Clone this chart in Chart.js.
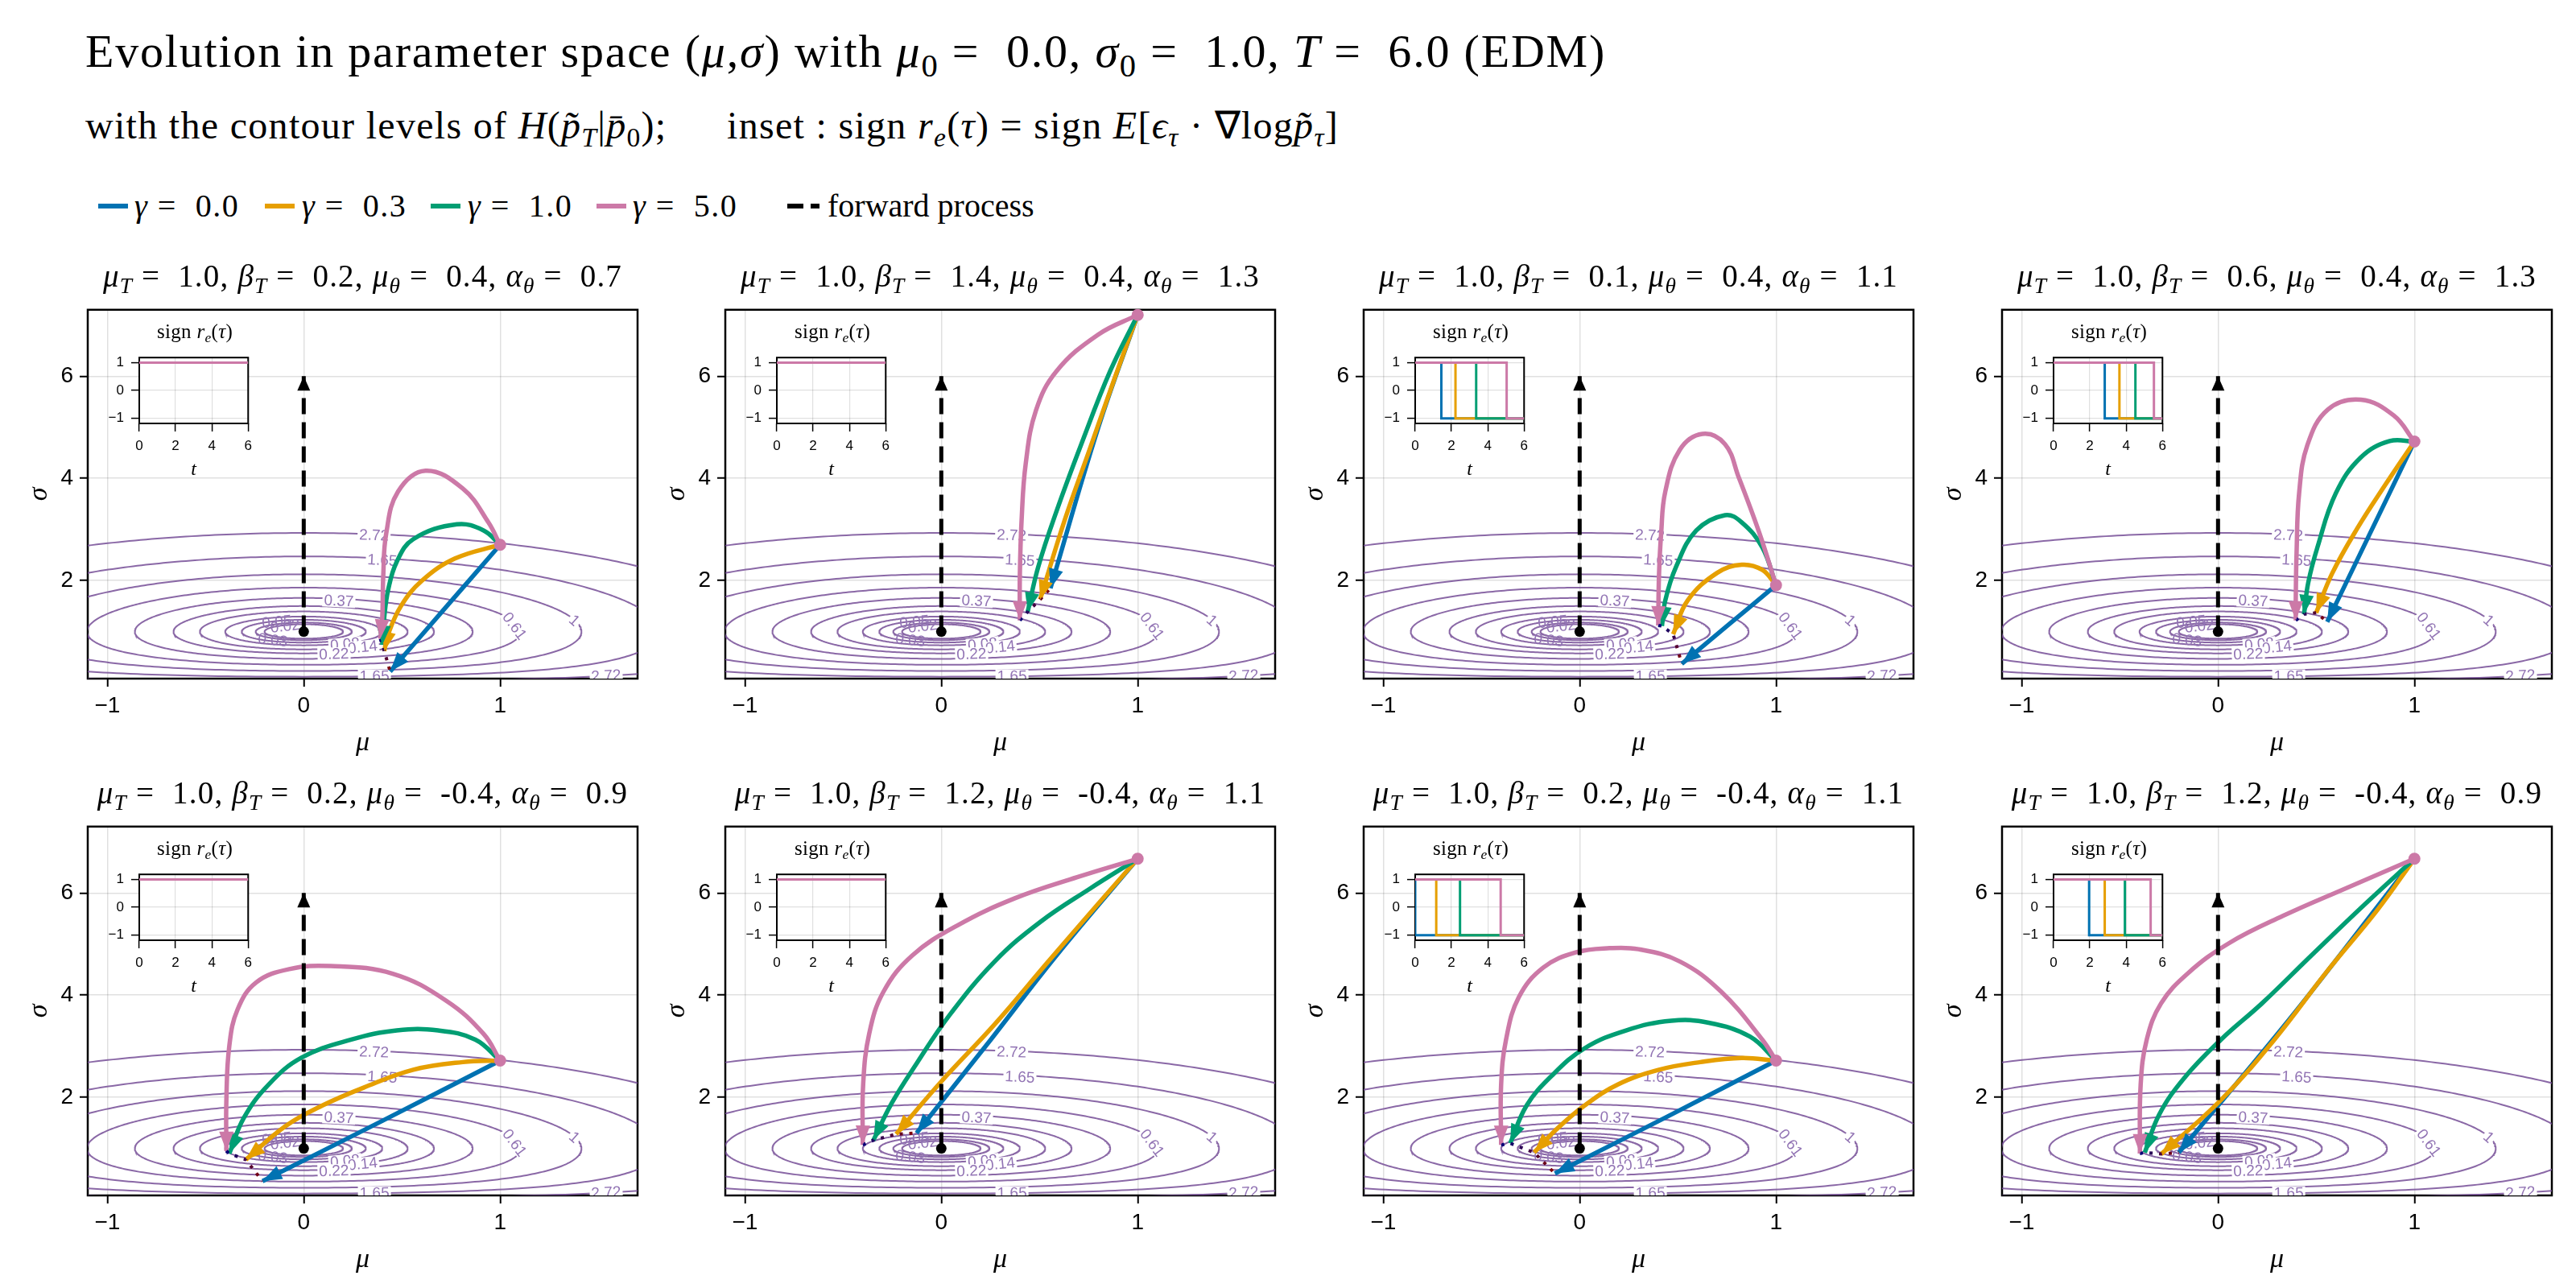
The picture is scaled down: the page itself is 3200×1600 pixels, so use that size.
<!DOCTYPE html>
<html>
<head>
<meta charset="utf-8">
<script src="https://cdn.jsdelivr.net/npm/chart.js@4.4.1/dist/chart.umd.min.js"></script>
<style>
  body { margin: 0; background: #fff; }
  #fig { position: relative; width: 3200px; height: 1600px; overflow: hidden; background: #fff; }
  #fig canvas { position: absolute; }
  .txt { position: absolute; white-space: nowrap; line-height: 1; font-family: 'Liberation Serif', serif; color: #000; }
  .txt sub { font-size: 0.7em; vertical-align: -0.3em; line-height: 0; }
  .swatch { position: absolute; width: 37px; height: 6px; transform: translateY(-50%); }
  .dashed { background: linear-gradient(to right, #000 0 20px, transparent 20px 29px, #000 29px 40px); width: 40px; }
</style>
</head>
<body>
<div id="fig"></div>
<script>
// ---- figure data ----
const mu0 = 0.0
const sigma0 = 1.0
const horizon = 6.0
const forwardEnd = 6.0

const gammaValues = [0.0, 0.3, 1.0, 5.0]
const gammaColors = ['#0072B2', '#E69F00', '#009E73', '#CC79A7']

const panelMuT = [1.0, 1.0, 1.0, 1.0, 1.0, 1.0, 1.0, 1.0]
const panelBetaT = [0.2, 1.4, 0.1, 0.6, 0.2, 1.2, 0.2, 1.2]
const panelMuTheta = [0.4, 0.4, 0.4, 0.4, -0.4, -0.4, -0.4, -0.4]
const panelAlphaTheta = [0.7, 1.3, 1.1, 1.3, 0.9, 1.1, 1.1, 0.9]

const muTicks = [-1, 0, 1]
const sigmaTicks = [2, 4, 6]
const insetTimeTicks = [0, 2, 4, 6]
const insetSignTicks = [-1, 0, 1]

// contour levels of H(p_T | p_0) and where their labels sit
const contourLevels = [0.02, 0.03, 0.05, 0.08, 0.14, 0.22, 0.37, 0.61, 1, 1.65, 2.72]
const contourLabelText = ['2.72', '1.65', '0.37', '0.61', '1', '0.05', '0.02', '0.03', '0.08', '0.14', '0.22', '1.65', '2.72']
const contourLabelMu = [0.358, 0.40, 0.179, 1.074, 1.379, -0.137, -0.095, -0.158, 0.21, 0.30, 0.154, 0.36, 1.54]
const contourLabelSigma = [2.89, 2.40, 1.605, 1.11, 1.22, 1.195, 1.11, 0.838, 0.756, 0.70, 0.564, 0.13, 0.14]

// trajectories, per panel: [gamma 0.0, 0.3, 1.0, 5.0]
const p1Mu = [
  [1.0, 0.72, 0.44],
  [1.0, 0.77, 0.60, 0.495, 0.43, 0.41],
  [1.0, 0.916, 0.78, 0.558, 0.474, 0.43, 0.41, 0.40],
  [1.0, 0.94, 0.81, 0.62, 0.48, 0.42, 0.405, 0.40, 0.39]
]
const p1Sigma = [
  [2.70, 1.46, 0.22],
  [2.70, 2.43, 1.99, 1.50, 0.95, 0.62],
  [2.70, 2.98, 3.10, 2.81, 2.37, 1.82, 1.28, 0.74],
  [2.70, 3.14, 3.80, 4.15, 3.74, 2.92, 2.10, 1.28, 0.86]
]
const p2Mu = [
  [1.0, 0.80, 0.556],
  [1.0, 0.88, 0.755, 0.629, 0.503],
  [1.0, 0.86, 0.713, 0.587, 0.493, 0.44],
  [1.0, 0.797, 0.587, 0.482, 0.43, 0.409, 0.40, 0.40]
]
const p2Sigma = [
  [7.2, 5.0, 1.85],
  [7.2, 5.93, 4.56, 3.19, 1.63],
  [7.2, 6.10, 4.67, 3.36, 2.26, 1.39],
  [7.2, 6.81, 6.10, 5.33, 4.29, 3.19, 2.10, 1.22]
]
const p3Mu = [
  [1.0, 0.76, 0.52],
  [1.0, 0.93, 0.825, 0.70, 0.55, 0.476],
  [1.0, 0.93, 0.825, 0.74, 0.594, 0.49, 0.436, 0.419],
  [1.0, 0.916, 0.81, 0.74, 0.625, 0.51, 0.436, 0.415, 0.404, 0.40]
]
const p3Sigma = [
  [1.91, 1.14, 0.37],
  [1.91, 2.21, 2.31, 2.15, 1.61, 0.95],
  [1.91, 2.65, 3.14, 3.28, 2.98, 2.26, 1.61, 1.11],
  [1.91, 2.92, 4.02, 4.67, 4.87, 4.56, 3.74, 2.92, 2.10, 1.12]
]
const p4Mu = [
  [1.0, 0.77, 0.556],
  [1.0, 0.853, 0.706, 0.58, 0.50],
  [1.0, 0.874, 0.727, 0.60, 0.507, 0.459, 0.438],
  [1.0, 0.895, 0.727, 0.56, 0.455, 0.413, 0.40, 0.396, 0.396]
]
const p4Sigma = [
  [4.72, 2.89, 1.19],
  [4.72, 3.88, 3.0, 2.13, 1.37],
  [4.72, 4.73, 4.41, 3.71, 2.66, 1.95, 1.34],
  [4.72, 5.23, 5.54, 5.35, 4.65, 3.71, 2.54, 1.66, 1.22]
]
const p5Mu = [
  [1.0, 0.40, -0.21],
  [1.0, 0.81, 0.558, 0.305, 0.095, -0.095, -0.295],
  [1.0, 0.874, 0.684, 0.474, 0.242, -0.01, -0.179, -0.305, -0.379],
  [1.0, 0.916, 0.726, 0.453, 0.137, -0.074, -0.242, -0.337, -0.379, -0.394, -0.394]
]
const p5Sigma = [
  [2.72, 1.54, 0.36],
  [2.72, 2.69, 2.54, 2.19, 1.84, 1.43, 0.78],
  [2.72, 3.13, 3.31, 3.31, 3.13, 2.78, 2.25, 1.60, 0.90],
  [2.72, 3.24, 3.89, 4.42, 4.57, 4.51, 4.25, 3.72, 3.01, 1.95, 0.95]
]
const p6Mu = [
  [1.0, 0.587, 0.252, -0.126],
  [1.0, 0.797, 0.545, 0.272, 0.0, -0.23],
  [1.0, 0.755, 0.503, 0.272, 0.04, -0.126, -0.252, -0.346],
  [1.0, 0.692, 0.377, 0.084, -0.147, -0.294, -0.367, -0.398, -0.40]
]
const p6Sigma = [
  [6.67, 4.78, 3.13, 1.30],
  [6.67, 5.78, 4.66, 3.43, 2.31, 1.28],
  [6.67, 6.08, 5.43, 4.66, 3.60, 2.66, 1.89, 1.16],
  [6.67, 6.31, 5.90, 5.37, 4.78, 4.07, 3.25, 2.25, 1.07]
]
const p7Mu = [
  [1.0, 0.44, -0.126],
  [1.0, 0.825, 0.615, 0.404, 0.194, 0.025, -0.122, -0.232],
  [1.0, 0.867, 0.657, 0.467, 0.236, 0.025, -0.143, -0.27, -0.354],
  [1.0, 0.93, 0.72, 0.51, 0.30, 0.152, -0.017, -0.185, -0.31, -0.375, -0.40, -0.40]
]
const p7Sigma = [
  [2.72, 1.61, 0.51],
  [2.72, 2.77, 2.69, 2.54, 2.25, 1.84, 1.36, 0.92],
  [2.72, 3.19, 3.46, 3.50, 3.31, 2.96, 2.42, 1.84, 1.10],
  [2.72, 3.13, 4.07, 4.66, 4.90, 4.92, 4.84, 4.54, 3.96, 3.13, 2.25, 1.07]
]
const p8Mu = [
  [1.0, 0.644, 0.33, -0.20],
  [1.0, 0.81, 0.56, 0.287, 0.015, -0.289],
  [1.0, 0.748, 0.476, 0.224, 0.015, -0.174, -0.30, -0.373],
  [1.0, 0.644, 0.33, 0.057, -0.153, -0.29, -0.363, -0.394, -0.398]
]
const p8Sigma = [
  [6.67, 4.90, 3.37, 0.92],
  [6.67, 5.66, 4.49, 3.13, 1.95, 0.89],
  [6.67, 5.78, 4.78, 3.84, 3.13, 2.37, 1.66, 0.92],
  [6.67, 6.08, 5.55, 5.02, 4.43, 3.84, 3.13, 2.25, 0.90]
]
const panelMu = [p1Mu, p2Mu, p3Mu, p4Mu, p5Mu, p6Mu, p7Mu, p8Mu]
const panelSigma = [p1Sigma, p2Sigma, p3Sigma, p4Sigma, p5Sigma, p6Sigma, p7Sigma, p8Sigma]

// inset: time where sign r_e switches from +1 to -1 (null = never)
const signSwitch = [
  [null, null, null, null],
  [null, null, null, null],
  [1.44, 2.22, 3.36, 5.04],
  [2.82, 3.63, 4.51, 5.53],
  [null, null, null, null],
  [null, null, null, null],
  [0, 1.16, 2.47, 4.71],
  [1.96, 2.82, 3.93, 5.35]
]

// ---- layout ----
const colLeft = [109, 901, 1694, 2487]
const rowTop = [372, 1014]
const plotW = 683
const plotH = 471
const insetW = 138
const insetH = 93
const muMin = -1.1
const muMax = 1.7
const sigmaMin = 0.08
const sigmaMax = 7.3
const legendSwatchX = [122, 329, 535, 741, 978]
const legendTextX = [167, 375, 581, 786, 1028]

const gridColor = 'rgba(0,0,0,0.12)'
const contourColor = 'rgba(118,78,150,0.85)'
const contourLabelColor = '#9274b4'
const fig = document.getElementById('fig')

// H = KL(N(mu, sigma^2) || N(mu0, sigma0^2)), the surface whose isolines are drawn
const klDiv = (m, s) => -Math.log(s) + (s * s + m * m - 1) / 2 // eslint-disable-line

function bisect (f, a, b) {
  let fa = f(a)
  for (let k = 0; k < 80; k++) {
    const c = (a + b) / 2
    const fc = f(c)
    if ((fc < 0) === (fa < 0)) { a = c; fa = fc } else { b = c }
  }
  return (a + b) / 2
}

// isoline of H at a level: mu^2 = 2c + 2 ln s - s^2 + 1
function contourPoints (level) {
  const g = s => 2 * level + 2 * Math.log(s) - s * s + 1
  const lo = bisect(g, 1e-4, 1)
  const hi = bisect(g, 1, 12)
  const n = 200
  const right = []
  for (let i = 0; i <= n; i++) {
    const s = (lo + hi) / 2 - (hi - lo) / 2 * Math.cos(Math.PI * i / n)
    right.push({ x: Math.sqrt(Math.max(0, g(s))), y: s })
  }
  const left = right.slice().reverse().map(p => ({ x: -p.x, y: p.y }))
  return right.concat(left)
}

function signSteps (s) {
  if (s === null) return [{ x: 0, y: 1 }, { x: horizon, y: 1 }]
  return [{ x: 0, y: 1 }, { x: s, y: 1 }, { x: s, y: -1 }, { x: horizon, y: -1 }]
}

const fmtTick = v => (v < 0 ? '\u2212' + Math.abs(v) : String(v))

function makeCanvas (left, top, width, height) {
  const c = document.createElement('canvas')
  c.width = width
  c.height = height
  c.style.left = left + 'px'
  c.style.top = top + 'px'
  c.style.width = width + 'px'
  c.style.height = height + 'px'
  fig.appendChild(c)
  return c
}

function addText (html, x, y, size, center, spacing) {
  const d = document.createElement('div')
  d.className = 'txt'
  d.innerHTML = html
  d.style.left = x + 'px'
  d.style.top = y + 'px'
  d.style.fontSize = size + 'px'
  if (spacing) d.style.letterSpacing = spacing + 'px'
  d.style.transform = center ? 'translate(-50%,-50%)' : 'translate(0,-50%)'
  fig.appendChild(d)
  return d
}

const framePlugin = {
  id: 'frame',
  beforeDraw (chart, args, opts) {
    if (!opts.fill) return
    const a = chart.chartArea
    chart.ctx.save()
    chart.ctx.fillStyle = '#fff'
    chart.ctx.fillRect(a.left, a.top, a.right - a.left, a.bottom - a.top)
    chart.ctx.restore()
  },
  beforeDatasetsDraw (chart, args, opts) {
    const a = chart.chartArea
    const ctx = chart.ctx
    ctx.save()
    ctx.strokeStyle = '#000'
    ctx.lineWidth = opts.width || 2.5
    ctx.strokeRect(a.left, a.top, a.right - a.left, a.bottom - a.top)
    ctx.restore()
  }
}

const contourLabelPlugin = {
  id: 'contourLabels',
  afterDatasetDraw (chart, args) {
    const ds = chart.data.datasets[args.index]
    if (ds.contourIndex !== 0) return
    const { ctx, chartArea } = chart
    const x = chart.scales.x
    const y = chart.scales.y
    const sx = x.getPixelForValue(1) - x.getPixelForValue(0)
    const sy = y.getPixelForValue(0) - y.getPixelForValue(1)
    ctx.save()
    ctx.beginPath()
    ctx.rect(chartArea.left, chartArea.top, chartArea.right - chartArea.left, chartArea.bottom - chartArea.top)
    ctx.clip()
    ctx.font = '19px "Liberation Sans"'
    ctx.textAlign = 'center'
    ctx.textBaseline = 'middle'
    contourLabelText.forEach((t, i) => {
      const m = contourLabelMu[i]
      const s = contourLabelSigma[i]
      let ang = Math.atan2(m / sx, (s - 1 / s) / sy)
      if (ang > Math.PI / 2) ang -= Math.PI
      if (ang < -Math.PI / 2) ang += Math.PI
      ctx.save()
      ctx.translate(x.getPixelForValue(m), y.getPixelForValue(s))
      ctx.rotate(ang)
      if (Number(t) > 0.06) {
        const w = ctx.measureText(t).width
        ctx.fillStyle = '#fff'
        ctx.fillRect(-w / 2 - 2, -8, w + 4, 16)
      }
      ctx.fillStyle = contourLabelColor
      ctx.fillText(t, 0, 1)
      ctx.restore()
    })
    ctx.restore()
  }
}

const arrowPlugin = {
  id: 'arrowHeads',
  afterDatasetsDraw (chart) {
    const ctx = chart.ctx
    chart.data.datasets.forEach((ds, i) => {
      if (!ds.arrow) return
      const pts = chart.getDatasetMeta(i).data
      const a = pts[pts.length - 2]
      const b = pts[pts.length - 1]
      const ang = Math.atan2(b.y - a.y, b.x - a.x)
      const len = ds.arrow.len
      const half = ds.arrow.half
      const bx = b.x - len * Math.cos(ang)
      const by = b.y - len * Math.sin(ang)
      ctx.save()
      ctx.fillStyle = ds.borderColor
      ctx.beginPath()
      ctx.moveTo(b.x, b.y)
      ctx.lineTo(bx - half * Math.sin(ang), by + half * Math.cos(ang))
      ctx.lineTo(bx + half * Math.sin(ang), by - half * Math.cos(ang))
      ctx.closePath()
      ctx.fill()
      ctx.restore()
    })
  }
}

function endpointGradient (context) {
  const chart = context.chart
  const ds = chart.data.datasets[context.datasetIndex]
  const x = chart.scales.x
  const y = chart.scales.y
  if (!chart.chartArea || !x || !y || !ds) return '#40105a'
  const a = ds.data[0]
  const b = ds.data[ds.data.length - 1]
  const g = chart.ctx.createLinearGradient(x.getPixelForValue(a.x), y.getPixelForValue(a.y),
    x.getPixelForValue(b.x), y.getPixelForValue(b.y))
  g.addColorStop(0, '#00007a')
  g.addColorStop(1, '#8b0000')
  return g
}

const tickFont = { family: 'Liberation Sans', size: 28 }

function mainChart (p, left, top) {
  const canvas = makeCanvas(left - 100, top - 12, 100 + plotW + 20, 12 + plotH + 110)
  const datasets = []
  contourLevels.forEach((lv, i) => {
    datasets.push({ data: contourPoints(lv), borderColor: contourColor, borderWidth: 2, pointRadius: 0, tension: 0, order: 10, contourIndex: i })
  })
  const curves = gammaValues.map((g, k) => panelMu[p][k].map((m, j) => ({ x: m, y: panelSigma[p][k][j] })))
  curves.forEach((pts, k) => {
    datasets.push({ data: pts, borderColor: gammaColors[k], borderWidth: 5.5, pointRadius: 0, tension: 0.4, order: 4 - k, arrow: { len: 24, half: 9 } })
  })
  // dotted line through the end points, from gamma 5.0 down to gamma 0.0
  datasets.push({
    data: [3, 2, 1, 0].map(k => curves[k][curves[k].length - 1]),
    borderColor: endpointGradient, borderWidth: 4, borderDash: [4, 8], pointRadius: 0, tension: 0, order: 0.5
  })
  datasets.push({ data: [curves[3][0]], showLine: false, pointRadius: 7.5, pointBorderWidth: 0, pointBackgroundColor: gammaColors[3], order: 0.4, clip: 12 })
  datasets.push({
    data: [{ x: mu0, y: sigma0 }, { x: mu0, y: forwardEnd }],
    borderColor: '#000', borderWidth: 5, borderDash: [20, 10], pointRadius: 0, order: 0.3, arrow: { len: 18, half: 8 }
  })
  datasets.push({ data: [{ x: mu0, y: sigma0 }], showLine: false, pointRadius: 6.5, pointBorderWidth: 0, pointBackgroundColor: '#000', order: 0.2 })

  new Chart(canvas.getContext('2d'), { // eslint-disable-line
    type: 'line',
    data: { datasets },
    options: {
      responsive: false,
      animation: false,
      devicePixelRatio: 1,
      events: [],
      layout: { padding: { top: 12, right: 20, left: 0, bottom: 0 } },
      plugins: { legend: { display: false }, tooltip: { enabled: false }, frame: { width: 2.5 } },
      scales: {
        x: {
          type: 'linear',
          min: muMin,
          max: muMax,
          afterBuildTicks: s => { s.ticks = muTicks.map(v => ({ value: v })) },
          afterFit: s => { s.height = 110 },
          border: { display: false },
          grid: { color: gridColor, lineWidth: 1.5, tickColor: '#000', tickWidth: 2, tickLength: 10 },
          ticks: { font: tickFont, color: '#000', padding: 7, maxRotation: 0, callback: fmtTick },
          title: { display: true, text: 'μ', color: '#000', font: { family: 'Liberation Serif', size: 34, style: 'italic' }, padding: { top: 0, bottom: 10 } }
        },
        y: {
          type: 'linear',
          min: sigmaMin,
          max: sigmaMax,
          afterBuildTicks: s => { s.ticks = sigmaTicks.map(v => ({ value: v })) },
          afterFit: s => { s.width = 100 },
          border: { display: false },
          grid: { color: gridColor, lineWidth: 1.5, tickColor: '#000', tickWidth: 2, tickLength: 10 },
          ticks: { font: tickFont, color: '#000', padding: 8, callback: fmtTick },
          title: { display: true, text: 'σ', color: '#000', font: { family: 'Liberation Serif', size: 34, style: 'italic' }, padding: { top: 20, bottom: 0 } }
        }
      }
    },
    plugins: [framePlugin, contourLabelPlugin, arrowPlugin]
  })
}

function insetChart (p, left, top) {
  const il = left + 64
  const it = top + 61
  const canvas = makeCanvas(il - 44, it - 8, 44 + insetW + 10, 8 + insetH + 74)
  const datasets = gammaValues.map((g, k) => ({
    data: signSteps(signSwitch[p][k]), borderColor: gammaColors[k], borderWidth: 3, pointRadius: 0, tension: 0, order: 4 - k
  }))
  const insetFont = { family: 'Liberation Sans', size: 17 }
  new Chart(canvas.getContext('2d'), { // eslint-disable-line
    type: 'line',
    data: { datasets },
    options: {
      responsive: false,
      animation: false,
      devicePixelRatio: 1,
      events: [],
      layout: { padding: { top: 8, right: 10, left: 0, bottom: 0 } },
      plugins: { legend: { display: false }, tooltip: { enabled: false }, frame: { width: 2, fill: true } },
      scales: {
        x: {
          type: 'linear',
          min: 0,
          max: horizon,
          afterBuildTicks: s => { s.ticks = insetTimeTicks.map(v => ({ value: v })) },
          afterFit: s => { s.height = 74 },
          border: { display: false },
          grid: { color: gridColor, lineWidth: 1.2, tickColor: '#000', tickWidth: 1.5, tickLength: 10 },
          ticks: { font: insetFont, color: '#000', padding: 8, maxRotation: 0, callback: fmtTick },
          title: { display: true, text: 't', color: '#000', font: { family: 'Liberation Serif', size: 24, style: 'italic' }, padding: { top: 0, bottom: 2 } }
        },
        y: {
          type: 'linear',
          min: -1.18,
          max: 1.18,
          afterBuildTicks: s => { s.ticks = insetSignTicks.map(v => ({ value: v })) },
          afterFit: s => { s.width = 44 },
          border: { display: false },
          grid: { color: gridColor, lineWidth: 1.2, tickColor: '#000', tickWidth: 1.5, tickLength: 10 },
          ticks: { font: insetFont, color: '#000', padding: 9, callback: fmtTick }
        }
      }
    },
    plugins: [framePlugin]
  })
  addText('sign <i>r</i><sub><i>e</i></sub>(<i>τ</i>)', il + insetW / 2, it - 22, 25, true, 0.3)
}

function panelTitleHtml (p) {
  const f = v => v.toFixed(1)
  return `<i>μ</i><sub><i>T</i></sub> =&nbsp; ${f(panelMuT[p])}, ` +
    `<i>β</i><sub><i>T</i></sub> =&nbsp; ${f(panelBetaT[p])}, ` +
    `<i>μ</i><sub><i>θ</i></sub> =&nbsp; ${f(panelMuTheta[p])}, ` +
    `<i>α</i><sub><i>θ</i></sub> =&nbsp; ${f(panelAlphaTheta[p])}`
}

// ---- headings ----
addText(`Evolution in parameter space (<i>μ</i>,<i>σ</i>) with <i>μ</i><sub>0</sub> =&nbsp; ${mu0.toFixed(1)}, ` +
  `<i>σ</i><sub>0</sub> =&nbsp; ${sigma0.toFixed(1)}, <i>T</i> =&nbsp; ${horizon.toFixed(1)} (EDM)`, 106, 64, 58, false, 1.8)
addText('with the contour levels of <i>H</i>(<i>p\u0303</i><sub><i>T</i></sub>|<i>p\u0304</i><sub>0</sub>);&emsp;&ensp;inset : ' +
  'sign <i>r</i><sub><i>e</i></sub>(<i>τ</i>) = sign <i>E</i>[<i>ϵ</i><sub><i>τ</i></sub> · ∇log<i>p\u0303</i><sub><i>τ</i></sub>]', 106, 156, 48, false, 1.3)

// ---- legend ----
gammaValues.forEach((g, k) => {
  const sw = document.createElement('div')
  sw.className = 'swatch'
  sw.style.left = legendSwatchX[k] + 'px'
  sw.style.top = '256px'
  sw.style.background = gammaColors[k]
  fig.appendChild(sw)
  addText(`<i>γ</i> =&nbsp; ${g.toFixed(1)}`, legendTextX[k], 256, 40, false, 1.5)
})
const fwd = document.createElement('div')
fwd.className = 'swatch dashed'
fwd.style.left = legendSwatchX[4] + 'px'
fwd.style.top = '256px'
fig.appendChild(fwd)
addText('forward process', legendTextX[4], 256, 40, false)

// ---- panels ----
for (let p = 0; p < 8; p++) {
  const left = colLeft[p % 4]
  const top = rowTop[Math.floor(p / 4)]
  mainChart(p, left, top)
  insetChart(p, left, top)
  addText(panelTitleHtml(p), left + plotW / 2, top - 30, 39, true, 1.2)
}
</script>
</body>
</html>
